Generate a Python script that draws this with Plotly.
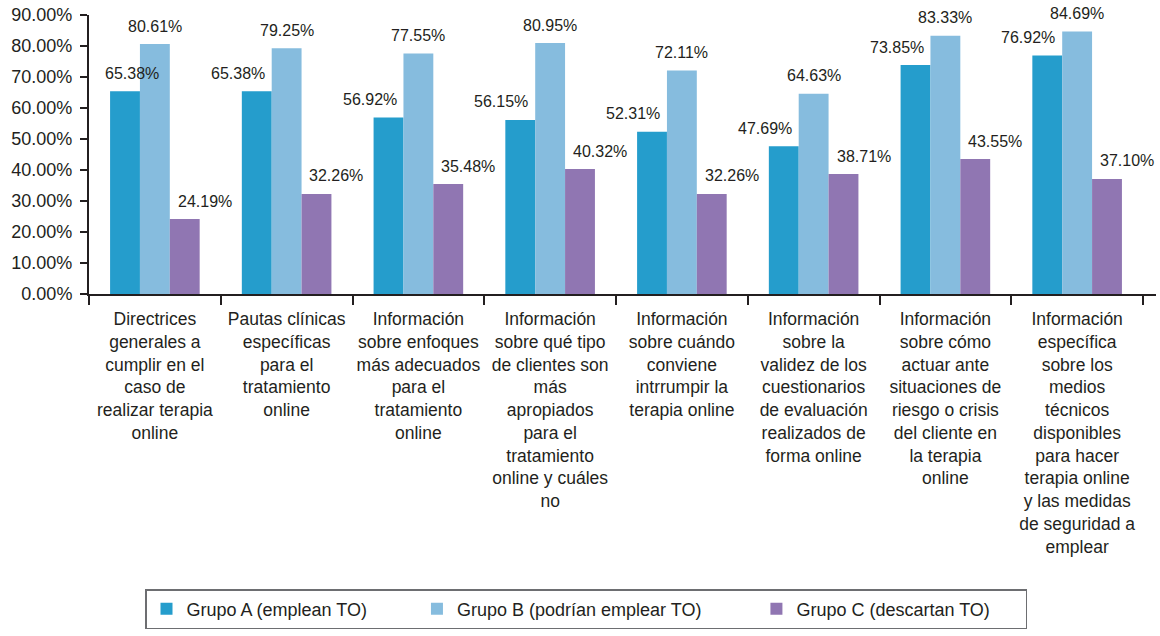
import plotly.graph_objects as go

categories = [
    "Directrices<br>generales a<br>cumplir en el<br>caso de<br>realizar terapia<br>online",
    "Pautas clínicas<br>específicas<br>para el<br>tratamiento<br>online",
    "Información<br>sobre enfoques<br>más adecuados<br>para el<br>tratamiento<br>online",
    "Información<br>sobre qué tipo<br>de clientes son<br>más<br>apropiados<br>para el<br>tratamiento<br>online y cuáles<br>no",
    "Información<br>sobre cuándo<br>conviene<br>intrrumpir la<br>terapia online",
    "Información<br>sobre la<br>validez de los<br>cuestionarios<br>de evaluación<br>realizados de<br>forma online",
    "Información<br>sobre cómo<br>actuar ante<br>situaciones de<br>riesgo o crisis<br>del cliente en<br>la terapia<br>online",
    "Información<br>específica<br>sobre los<br>medios<br>técnicos<br>disponibles<br>para hacer<br>terapia online<br>y las medidas<br>de seguridad a<br>emplear",
]
grupo_a = [65.38, 65.38, 56.92, 56.15, 52.31, 47.69, 73.85, 76.92]
grupo_b = [80.61, 79.25, 77.55, 80.95, 72.11, 64.63, 83.33, 84.69]
grupo_c = [24.19, 32.26, 35.48, 40.32, 32.26, 38.71, 43.55, 37.10]
series_names = ["Grupo A (emplean TO)", "Grupo B (podrían emplear TO)", "Grupo C (descartan TO)"]
y_ticks = [0, 10, 20, 30, 40, 50, 60, 70, 80, 90]
y_tick_labels = [f"{v:.2f}%" for v in y_ticks]

colors = ["#259dcc", "#86bcde", "#9076b2"]
text_color = "#231f20"
font_family = "Liberation Sans, Arial, Helvetica, sans-serif"
BARGAP = 0.32
legend_pad = [9, 10, 6]  # trailing spacing in legend entries

series = [grupo_a, grupo_b, grupo_c]

ML, MR, MT, MB = 89, 4, 15, 342
W, H = 1160, 636
plot_w = W - ML - MR
plot_h = H - MT - MB

fig = go.Figure()
for name, vals, col, pad in zip(series_names, series, colors, legend_pad):
    fig.add_trace(go.Bar(
        x=categories, y=vals, name=name + "\u00a0" * pad,
        marker=dict(color=col, line=dict(width=0)),
    ))

# value labels
bar_w = (1 - BARGAP) / 3
label_dx = [-19, 0, 20]
for i, vals in enumerate(series):
    for j, v in enumerate(vals):
        dx = label_dx[i]
        if i == 0 and j == 0:
            dx = 7
        fig.add_annotation(
            x=j + (i - 1) * bar_w, y=v, xref="x", yref="y",
            text=f"{v:.2f}%", showarrow=False,
            xanchor="center", yanchor="middle",
            xshift=dx, yshift=18,
            font=dict(size=16, color=text_color, family=font_family),
        )

fig.update_layout(
    width=W, height=H,
    template="none",
    barmode="group", bargap=BARGAP, bargroupgap=0,
    paper_bgcolor="white", plot_bgcolor="white",
    margin=dict(l=ML, r=MR, t=MT, b=MB, autoexpand=False),
    font=dict(family=font_family, color=text_color),
    showlegend=True,
    legend=dict(
        orientation="h",
        x=(145 - ML) / plot_w, xanchor="left", xref="paper",
        y=(plot_h + MT - 589) / plot_h, yanchor="top", yref="paper",
        bordercolor="#6d6e71", borderwidth=1.5, bgcolor="white",
        font=dict(size=18, color=text_color, family=font_family),
        traceorder="normal",
    ),
)
fig.update_xaxes(
    type="category", automargin=False,
    showline=True, linecolor=text_color, linewidth=2,
    ticks="outside", tickson="boundaries", ticklen=9, tickwidth=2, tickcolor=text_color,
    showgrid=False, zeroline=False,
    tickfont=dict(size=17.5, color=text_color, family=font_family),
    tickangle=0, ticklabelstandoff=8,
)
fig.update_yaxes(
    range=[0, 90], automargin=False,
    tickmode="array", tickvals=y_ticks, ticktext=y_tick_labels,
    showline=True, linecolor=text_color, linewidth=2,
    ticks="outside", ticklen=7, tickwidth=2, tickcolor=text_color,
    showgrid=False, zeroline=False, ticklabeloverflow="allow",
    tickfont=dict(size=18, color=text_color, family=font_family),
    ticklabelstandoff=4,
)

fig.write_html(
    "out.html",
    config={"displayModeBar": False},
    post_script="document.body.style.margin='0';document.body.style.overflow='hidden';",
)
